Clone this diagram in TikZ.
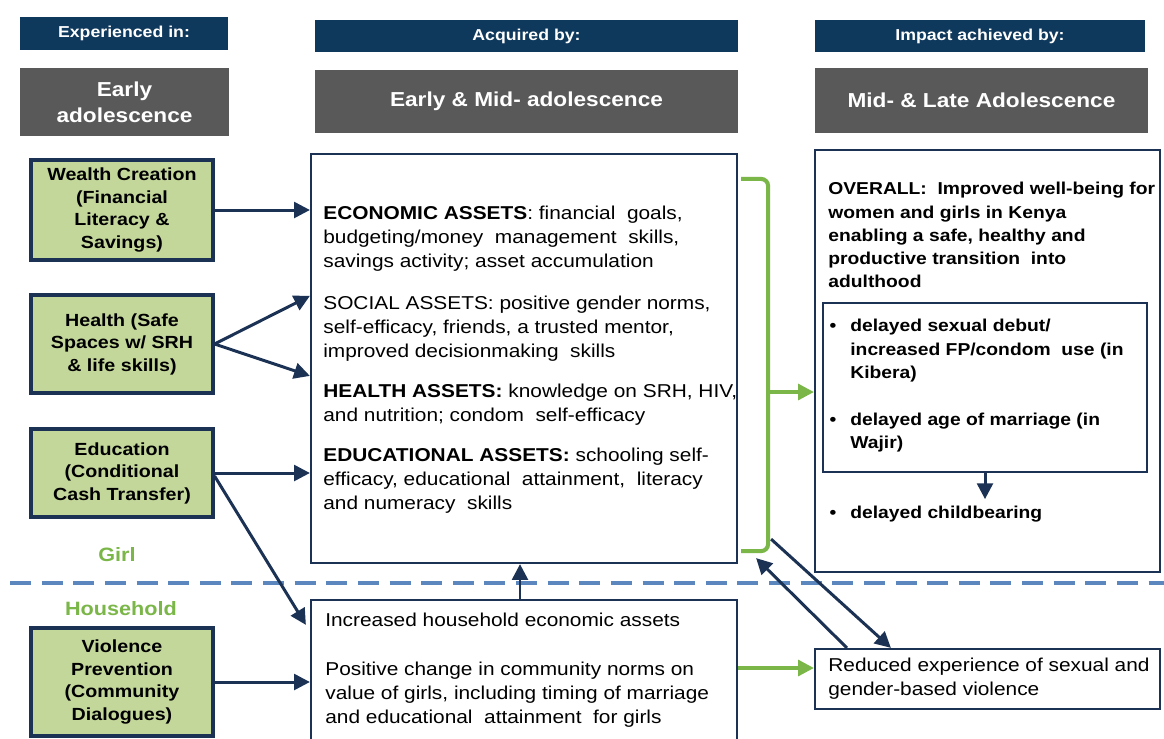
\documentclass[tikz,border=0pt]{standalone}
\usepackage{fontspec}
\setmainfont[FakeStretch=1.12]{Liberation Sans}
\usetikzlibrary{arrows.meta, positioning, calc}
\definecolor{navy}{RGB}{14,56,92}
\definecolor{boxline}{RGB}{28,50,84}
\definecolor{stagegray}{RGB}{89,89,89}
\definecolor{progfill}{RGB}{196,215,155}
\definecolor{leafgreen}{RGB}{122,182,72}
\definecolor{dashblue}{RGB}{91,135,190}
\tikzset{
  hdrbar/.style={rectangle, fill=navy, text=white, inner sep=0pt,
                 font=\fontsize{9}{10}\selectfont\bfseries},
  stagebar/.style={rectangle, fill=stagegray, text=white, inner sep=0pt,
                   align=center, font=\fontsize{11.5}{14.8}\selectfont\bfseries},
  progbox/.style={rectangle, draw=boxline, line width=1.8pt, fill=progfill,
                  align=center, minimum width=3.64cm, inner sep=0pt,
                  font=\fontsize{10}{12.8}\selectfont\bfseries},
  outbox/.style={rectangle, draw=boxline, line width=1.3pt, fill=white, inner sep=0pt},
  body/.style={anchor=north west, align=left, inner sep=0pt,
               font=\fontsize{10.6}{13.66}\selectfont},
  boldbody/.style={body, font=\fontsize{9.8}{13.2}\selectfont\bfseries},
  sidelabel/.style={text=leafgreen, font=\fontsize{11}{13}\selectfont\bfseries},
  arrow/.style={-{Triangle[length=9pt, width=9pt]}, line width=1.7pt, color=boxline},
  garrow/.style={-{Triangle[length=9pt, width=9pt]}, line width=2pt, color=leafgreen},
}

\begin{document}
\begin{tikzpicture}[x=0.02cm, y=-0.02cm]
  \useasboundingbox (0,0) rectangle (1164,738);
  \fill[white] (0,0) rectangle (1164,738);

  % column headers
  \node[hdrbar, minimum width=4.16cm, minimum height=0.66cm] (expHdr) at (124,33.5) {Experienced in:};
  \node[hdrbar, minimum width=8.46cm, minimum height=0.64cm] (acqHdr) at (526.5,36) {Acquired by:};
  \node[hdrbar, minimum width=6.6cm, minimum height=0.64cm] (impHdr) at (980,36) {Impact achieved by:};
  \node[stagebar, minimum width=4.18cm, minimum height=1.36cm] (earlyStage) at (124.5,102) {Early\\adolescence};
  \node[stagebar, minimum width=8.46cm, minimum height=1.26cm] (midStage) at (526.5,101.5) {Early \& Mid- adolescence};
  \node[stagebar, minimum width=6.66cm, minimum height=1.3cm] (lateStage) at (981.5,100.5) {Mid- \& Late Adolescence};

  % girl / household divide
  \draw[dashblue, line width=2.8pt, dash pattern=on 12pt off 6pt] (10,583) -- (1164,583);
  \node[sidelabel] (girlLbl) at (117,555) {Girl};
  \node[sidelabel] (hhLbl) at (121,609) {Household};

  % programme components
  \node[progbox, minimum height=2.0cm] (wealth) at (122,210) {Wealth Creation\\(Financial\\Literacy \&\\Savings)};
  \node[progbox, minimum height=1.96cm] (health) at (122,344) {Health (Safe\\Spaces w/ SRH\\\& life skills)};
  \node[progbox, minimum height=1.76cm] (educ) at (122,473) {Education\\(Conditional\\Cash Transfer)};
  \node[progbox, minimum height=2.16cm] (viol) at (122,682) {Violence\\Prevention\\(Community\\Dialogues)};

  % assets
  \node[outbox, minimum width=8.52cm, minimum height=8.18cm] (mid) at (524,358.5) {};
  \node[body] (assetTxt) at (323,206) {%
    \textbf{ECONOMIC ASSETS}: financial\ \ goals,\\
    budgeting/money\ \ management\ \ skills,\\
    savings activity; asset accumulation\\[10pt]
    SOCIAL ASSETS: positive gender norms,\\
    self-efficacy, friends, a trusted mentor,\\
    improved decisionmaking\ \ skills\\[9pt]
    \textbf{HEALTH ASSETS:} knowledge on SRH, HIV,\\
    and nutrition; condom\ \ self-efficacy\\[9pt]
    \textbf{EDUCATIONAL ASSETS:} schooling self-\\
    efficacy, educational\ \ attainment,\ \ literacy\\
    and numeracy\ \ skills};
  \node[outbox, minimum width=8.52cm, minimum height=2.8cm] (hh) at (524,670) {};
  \node[body] (hhTxt) at (325,613) {%
    Increased household economic assets\\[14pt]
    Positive change in community norms on\\
    value of girls, including timing of marriage\\
    and educational\ \ attainment\ \ for girls};

  % impact
  \node[outbox, minimum width=6.9cm, minimum height=8.44cm] (impact) at (987.5,361) {};
  \node[boldbody] (overallTxt) at (828,182) {%
    OVERALL:\ \ Improved well-being for\\
    women and girls in Kenya\\
    enabling a safe, healthy and\\
    productive transition\ \ into\\
    adulthood};
  \node[outbox, minimum width=6.48cm, minimum height=3.38cm] (inner) at (985,387.5) {};
  \node[boldbody] (debutTxt) at (850,319) {%
    \llap{\textbullet\hspace{8pt}}delayed sexual debut/\\
    increased FP/condom\ \ use (in\\
    Kibera)\\[13.5pt]
    \llap{\textbullet\hspace{8pt}}delayed age of marriage (in\\
    Wajir)};
  \node[boldbody] (childTxt) at (850,506) {\llap{\textbullet\hspace{8pt}}delayed childbearing};
  \node[outbox, minimum width=6.9cm, minimum height=1.2cm] (sgbv) at (987.5,679) {};
  \node[body] (sgbvTxt) at (828,658) {%
    Reduced experience of sexual and\\
    gender-based violence};

  % connectors
  \draw[arrow] (wealth.east) -- (wealth.east -| mid.west);
  \draw[arrow] (health.east) -- ($(mid.north west)+(0,143)$);
  \draw[arrow] (health.east) -- ($(mid.north west)+(0,223)$);
  \draw[arrow] (educ.east) -- (educ.east -| mid.west);
  \draw[arrow] ($(educ.east)+(0,3)$) -- ($(hh.north west)+(-4,26)$);
  \draw[arrow] (viol.east) -- (viol.east -| hh.west);
  \draw[arrow] ($(hh.north)+(-4,0)$) -- ($(mid.south)+(-4,0)$);
  \draw[arrow] (inner.south) -- ++(0,26);
  \draw[arrow] ($(sgbv.north west)+(33,0)$) -- ($(mid.south east)+(18,-6)$);
  \draw[arrow] ($(mid.south east)+(33,-25)$) -- ($(sgbv.north west)+(77,0)$);

  % green bracket into impact
  \coordinate (brk) at (767,392);
  \draw[leafgreen, line width=2.3pt, rounded corners=4pt]
    ($(mid.north east)+(3,26)$) -| ($(mid.south east)+(30,-13)$) -- ++(-27,0);
  \draw[garrow] (brk) -- (brk -| impact.west);
  \draw[garrow] ($(hh.east)+(0,-2)$) -- ($(hh.east -| sgbv.west)+(0,-2)$);
\end{tikzpicture}
\end{document}
